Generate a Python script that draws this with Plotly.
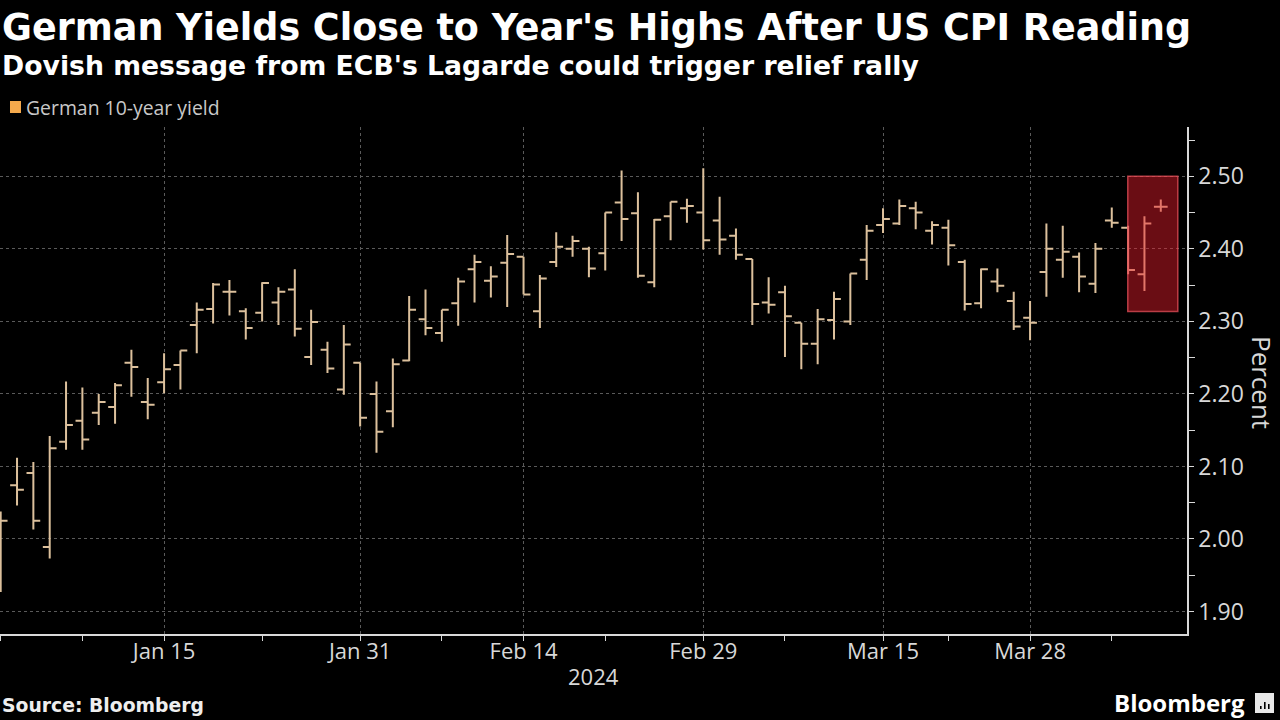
import plotly.graph_objects as go

# ---------------- data (German 10-year yield, daily OHLC, %) ----------------
dates = [
    "2024-01-01", "2024-01-02", "2024-01-03", "2024-01-04", "2024-01-05",
    "2024-01-08", "2024-01-09", "2024-01-10", "2024-01-11", "2024-01-12",
    "2024-01-15", "2024-01-16", "2024-01-17", "2024-01-18", "2024-01-19",
    "2024-01-22", "2024-01-23", "2024-01-24", "2024-01-25", "2024-01-26",
    "2024-01-29", "2024-01-30", "2024-01-31", "2024-02-01", "2024-02-02",
    "2024-02-05", "2024-02-06", "2024-02-07", "2024-02-08", "2024-02-09",
    "2024-02-12", "2024-02-13", "2024-02-14", "2024-02-15", "2024-02-16",
    "2024-02-19", "2024-02-20", "2024-02-21", "2024-02-22", "2024-02-23",
    "2024-02-26", "2024-02-27", "2024-02-28", "2024-02-29", "2024-03-01",
    "2024-03-04", "2024-03-05", "2024-03-06", "2024-03-07", "2024-03-08",
    "2024-03-11", "2024-03-12", "2024-03-13", "2024-03-14", "2024-03-15",
    "2024-03-18", "2024-03-19", "2024-03-20", "2024-03-21", "2024-03-22",
    "2024-03-25", "2024-03-26", "2024-03-27", "2024-03-28", "2024-03-29",
    "2024-04-01", "2024-04-02", "2024-04-03", "2024-04-04", "2024-04-05",
    "2024-04-08", "2024-04-09",
]
open_ = [
    2.030, 2.074, 2.091, 1.989, 2.134, 2.163, 2.174, 2.182, 2.243, 2.189,
    2.216, 2.240, 2.295, 2.317, 2.341, 2.314, 2.312, 2.326, 2.344, 2.251,
    2.261, 2.206, 2.243, 2.200, 2.176, 2.246, 2.303, 2.284, 2.325, 2.372,
    2.356, 2.381, 2.389, 2.314, 2.382, 2.400, 2.400, 2.394, 2.464, 2.449,
    2.354, 2.445, 2.456, 2.450, 2.439, 2.418, 2.386, 2.326, 2.340, 2.298,
    2.269, 2.302, 2.300, 2.385, 2.433, 2.435, 2.456, 2.425, 2.429, 2.382,
    2.325, 2.355, 2.328, 2.305, 2.368, 2.385, 2.389, 2.352, 2.439, 2.429,
    2.365, 2.458,
]
high = [
    2.038, 2.112, 2.106, 2.142, 2.217, 2.209, 2.200, 2.215, 2.261, 2.222,
    2.256, 2.260, 2.326, 2.353, 2.357, 2.318, 2.354, 2.347, 2.372, 2.316,
    2.272, 2.295, 2.243, 2.217, 2.249, 2.335, 2.344, 2.316, 2.360, 2.392,
    2.376, 2.419, 2.389, 2.364, 2.423, 2.418, 2.403, 2.450, 2.508, 2.478,
    2.441, 2.465, 2.469, 2.511, 2.472, 2.428, 2.386, 2.361, 2.349, 2.298,
    2.317, 2.341, 2.366, 2.433, 2.456, 2.468, 2.465, 2.438, 2.440, 2.385,
    2.373, 2.373, 2.341, 2.328, 2.435, 2.432, 2.395, 2.408, 2.457, 2.432,
    2.445, 2.468,
]
low = [
    1.927, 2.046, 2.013, 1.973, 2.123, 2.123, 2.157, 2.159, 2.196, 2.165,
    2.201, 2.206, 2.256, 2.297, 2.308, 2.275, 2.300, 2.295, 2.279, 2.240,
    2.229, 2.199, 2.155, 2.119, 2.154, 2.245, 2.281, 2.272, 2.294, 2.326,
    2.333, 2.320, 2.337, 2.291, 2.375, 2.389, 2.361, 2.370, 2.411, 2.360,
    2.347, 2.412, 2.436, 2.399, 2.392, 2.385, 2.295, 2.311, 2.251, 2.234,
    2.241, 2.275, 2.295, 2.357, 2.422, 2.433, 2.427, 2.406, 2.377, 2.315,
    2.318, 2.340, 2.288, 2.274, 2.334, 2.360, 2.340, 2.339, 2.429, 2.365,
    2.342, 2.451,
]
close = [
    2.025, 2.068, 2.025, 2.125, 2.157, 2.137, 2.189, 2.212, 2.237, 2.185,
    2.234, 2.260, 2.316, 2.351, 2.341, 2.291, 2.353, 2.341, 2.290, 2.299,
    2.235, 2.268, 2.167, 2.148, 2.241, 2.316, 2.291, 2.316, 2.355, 2.382,
    2.362, 2.393, 2.337, 2.359, 2.403, 2.411, 2.373, 2.450, 2.441, 2.363,
    2.440, 2.465, 2.459, 2.412, 2.413, 2.392, 2.324, 2.323, 2.307, 2.269,
    2.303, 2.331, 2.366, 2.425, 2.441, 2.459, 2.450, 2.433, 2.405, 2.324,
    2.372, 2.349, 2.293, 2.298, 2.400, 2.396, 2.362, 2.400, 2.436, 2.371,
    2.435, 2.458,
]

x_tick_dates = ["2024-01-15", "2024-01-31", "2024-02-14", "2024-02-29", "2024-03-15", "2024-03-28"]
x_tick_labels = ["Jan 15", "Jan 31", "Feb 14", "Feb 29", "Mar 15", "Mar 28"]
x_minor_dates = ["2024-01-01", "2024-01-08", "2024-01-23", "2024-02-07", "2024-02-21",
                 "2024-03-07", "2024-03-21", "2024-04-04"]
y_ticks = [1.9, 2.0, 2.1, 2.2, 2.3, 2.4, 2.5]
y_minor = [1.95, 2.05, 2.15, 2.25, 2.35, 2.45, 2.55]

# highlighted CPI window
box_x = ["2024-04-05", "2024-04-10"]
box_y = [2.3135, 2.50]

series_name = "German 10-year yield"
year_label = "2024"

# ---------------- styling / layout ----------------
W, H = 1280, 720
L, R, T, B = 0, 93, 127, 86
PW, PH = W - L - R, H - T - B

def px(x):
    return (x - L) / PW

def py(y):
    return (H - B - y) / PH

noon = lambda d: d + " 12:00"

BAR = "#dcc09c"
FONT = "Open Sans"
BOLD = "DejaVu Sans"
GRID = "#5a5a5a"
AXIS = "#d8d8d8"
TXT = "#d8d8d8"

fig = go.Figure()
fig.add_trace(go.Ohlc(
    x=[noon(d) for d in dates], open=open_, high=high, low=low, close=close,
    increasing=dict(line=dict(color=BAR, width=2)),
    decreasing=dict(line=dict(color=BAR, width=2)),
    tickwidth=0.42, showlegend=False, hoverinfo="skip", name=series_name,
))

fig.add_shape(type="rect", xref="x", yref="y",
              x0=box_x[0] + " 11:30", x1=box_x[1] + " 13:00",
              y0=box_y[0], y1=box_y[1],
              fillcolor="rgba(235,28,45,0.45)",
              line=dict(color="rgba(230,80,90,0.75)", width=1.5), layer="above")

fig.update_layout(
    width=W, height=H,
    paper_bgcolor="#000000", plot_bgcolor="#000000",
    margin=dict(l=L, r=R, t=T, b=B, pad=0),
    font=dict(family=FONT, color=TXT),
    showlegend=False,
)

fig.update_xaxes(
    type="date",
    range=["2024-01-01 11:00", "2024-04-11 02:30"],
    rangebreaks=[dict(bounds=["sat", "mon"])],
    rangeslider=dict(visible=False),
    tickmode="array", tickvals=[noon(d) for d in x_tick_dates], ticktext=x_tick_labels,
    tickfont=dict(size=22, color=TXT, family=FONT),
    ticklabelstandoff=-8,
    ticks="outside", ticklen=5, tickcolor=AXIS, tickwidth=1,
    showline=True, linecolor=AXIS, linewidth=1.5,
    showgrid=True, gridcolor=GRID, griddash="dot", gridwidth=1,
    zeroline=False,
    minor=dict(tickmode="array", tickvals=[noon(d) for d in x_minor_dates],
               ticks="outside", ticklen=5, tickcolor=AXIS, tickwidth=1, showgrid=False),
)

fig.update_yaxes(
    side="right",
    range=[1.869, 2.568],
    tickmode="array", tickvals=y_ticks, ticktext=[f"{v:.2f}" for v in y_ticks],
    tickfont=dict(size=23, color=TXT, family=FONT),
    ticks="outside", ticklen=5, tickcolor=AXIS, tickwidth=1,
    showline=True, linecolor=AXIS, linewidth=1.5,
    showgrid=True, gridcolor=GRID, griddash="dot", gridwidth=1,
    zeroline=False,
    minor=dict(tickmode="array", tickvals=y_minor, ticks="outside", ticklen=6,
               tickcolor=AXIS, tickwidth=1, showgrid=False),
)

ann = []
ann.append(dict(text="<b>German Yields Close to Year's Highs After US CPI Reading</b>",
                xref="paper", yref="paper", x=px(0), y=py(27), xanchor="left", yanchor="middle",
                showarrow=False, font=dict(size=36.5, color="#ffffff", family=BOLD)))
ann.append(dict(text="<b>Dovish message from ECB's Lagarde could trigger relief rally</b>",
                xref="paper", yref="paper", x=px(0), y=py(65), xanchor="left", yanchor="middle",
                showarrow=False, font=dict(size=26.7, color="#ffffff", family=BOLD)))
ann.append(dict(text=series_name,
                xref="paper", yref="paper", x=px(24), y=py(107), xanchor="left", yanchor="middle",
                showarrow=False, font=dict(size=19.4, color="#c8c8c8", family=FONT)))
ann.append(dict(text=year_label,
                xref="paper", yref="paper", x=px(594), y=py(676), xanchor="center", yanchor="middle",
                showarrow=False, font=dict(size=22, color=TXT, family=FONT)))
ann.append(dict(text="Percent", textangle=90,
                xref="paper", yref="paper", x=px(1262), y=py(382), xanchor="center", yanchor="middle",
                showarrow=False, font=dict(size=26, color=TXT, family=FONT)))
ann.append(dict(text="<b>Source: Bloomberg</b>",
                xref="paper", yref="paper", x=px(0), y=py(705), xanchor="left", yanchor="middle",
                showarrow=False, font=dict(size=18.8, color="#eeeeee", family=BOLD)))
ann.append(dict(text="<b>Bloomberg</b>",
                xref="paper", yref="paper", x=px(1247), y=py(702), xanchor="right", yanchor="middle",
                showarrow=False, font=dict(size=24, color="#ffffff", family=FONT)))
fig.update_layout(annotations=ann)

# legend swatch
fig.add_shape(type="rect", xref="paper", yref="paper",
              x0=px(10), x1=px(21), y0=py(113), y1=py(101),
              fillcolor="#f5a94c", line=dict(width=0), layer="above")
# logo glyph
fig.add_shape(type="rect", xref="paper", yref="paper",
              x0=px(1255), x1=px(1274), y0=py(713), y1=py(693),
              fillcolor="#e8e8e8", line=dict(width=0), layer="above")
for gx0, gy in ((1260, 706), (1264, 702), (1268, 704)):
    fig.add_shape(type="rect", xref="paper", yref="paper",
                  x0=px(gx0), x1=px(gx0 + 1.6), y0=py(709), y1=py(gy),
                  fillcolor="#000000", line=dict(width=0), layer="above")

fig.write_html("out.html", config={"displayModeBar": False},
               post_script="document.body.style.margin='0px';")
